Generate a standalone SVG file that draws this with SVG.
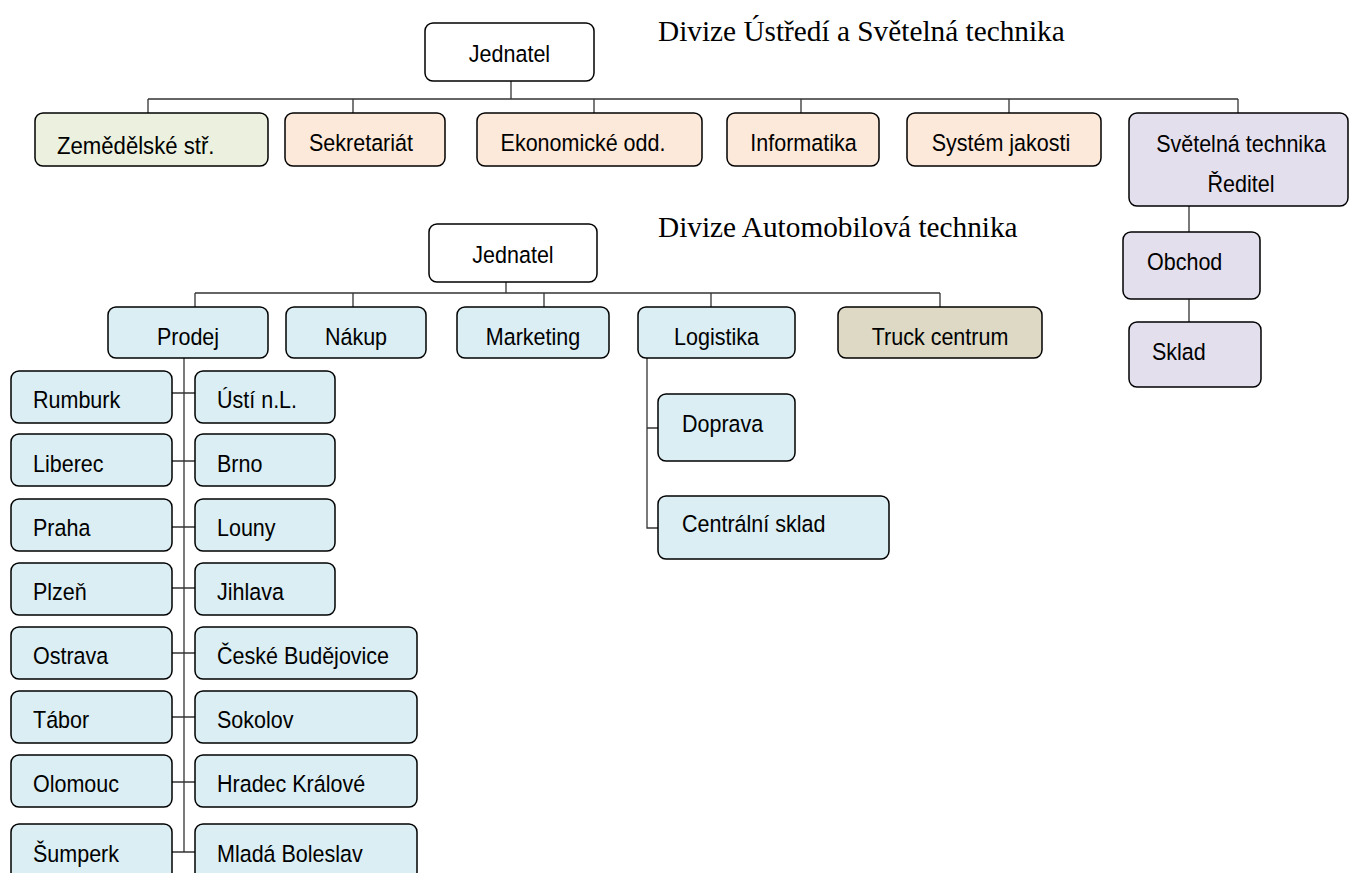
<svg xmlns="http://www.w3.org/2000/svg" width="1349" height="873" viewBox="0 0 1349 873">
<style>
.b{stroke:#000;stroke-width:1.5;rx:8;ry:8}
.w{fill:#fff}.g{fill:#ebf1de}.p{fill:#fde9d9}.v{fill:#e4dfec}.c{fill:#daeef3}.t{fill:#ddd9c4}
.l{font-family:"Liberation Sans",Arial,sans-serif;font-size:23.5px;fill:#000}
.m{text-anchor:middle}
.h{font-family:"Liberation Serif","Times New Roman",serif;font-size:29.3px;fill:#000}
.k{fill:none;stroke:#333;stroke-width:1.3}
</style>
<rect width="1349" height="873" fill="#fff"/>
<text class="h" x="658" y="41">Divize Ústředí a Světelná technika</text>
<text class="h" x="658" y="237">Divize Automobilová technika</text>
<g id="connectors" class="k">
<path d="M511 81V99M148 99H1238M148 99V113M353 99V113M594 99V113M801 99V113M1009 99V113M1238 99V113"/>
<path d="M1189 206V232M1189 299V322"/>
<path d="M506 282V293M195 293H940M195 293V307M353 293V307M544 293V307M711 293V307M940 293V307"/>
<path d="M184 358V852M172 393H195M172 461H195M172 527H195M172 588H195M172 653H195M172 717H195M172 782H195M172 852H195"/>
<path d="M647 358V528H658M647 428H658"/>
</g>
<g id="jednatel1"><rect class="b w" x="425" y="23" width="169" height="58"/><text class="l m" transform="translate(509.5 62) scale(0.915 1)">Jednatel</text></g>
<g id="zemedelske"><rect class="b g" x="35" y="113" width="233" height="53"/><text class="l" transform="translate(57 154) scale(0.915 1)" style="font-size:24.2px">Zemědělské stř.</text></g>
<g id="sekretariat"><rect class="b p" x="285" y="113" width="160" height="53"/><text class="l m" transform="translate(361 151) scale(0.915 1)">Sekretariát</text></g>
<g id="ekonomicke"><rect class="b p" x="477" y="113" width="225" height="53"/><text class="l m" transform="translate(583 151) scale(0.915 1)">Ekonomické odd.</text></g>
<g id="informatika"><rect class="b p" x="727" y="113" width="152" height="53"/><text class="l m" transform="translate(803.5 151) scale(0.915 1)">Informatika</text></g>
<g id="system"><rect class="b p" x="907" y="113" width="194" height="53"/><text class="l m" transform="translate(1001 151) scale(0.915 1)">Systém jakosti</text></g>
<g id="svetelna"><rect class="b v" x="1129" y="113" width="219" height="93"/><text class="l m" transform="translate(1241 152) scale(0.915 1)">Světelná technika</text><text class="l m" transform="translate(1241 192) scale(0.915 1)">Ředitel</text></g>
<g id="obchod"><rect class="b v" x="1123" y="232" width="137" height="67"/><text class="l" transform="translate(1147 270) scale(0.915 1)">Obchod</text></g>
<g id="sklad"><rect class="b v" x="1129" y="322" width="132" height="65"/><text class="l" transform="translate(1152 360) scale(0.915 1)">Sklad</text></g>
<g id="jednatel2"><rect class="b w" x="429" y="224" width="168" height="58"/><text class="l m" transform="translate(513 263) scale(0.915 1)">Jednatel</text></g>
<g id="prodej"><rect class="b c" x="108" y="307" width="160" height="51"/><text class="l m" transform="translate(188 345) scale(0.915 1)">Prodej</text></g>
<g id="nakup"><rect class="b c" x="286" y="307" width="140" height="51"/><text class="l m" transform="translate(356 345) scale(0.915 1)">Nákup</text></g>
<g id="marketing"><rect class="b c" x="457" y="307" width="152" height="51"/><text class="l m" transform="translate(533 345) scale(0.915 1)">Marketing</text></g>
<g id="logistika"><rect class="b c" x="638" y="307" width="157" height="51"/><text class="l m" transform="translate(716.5 345) scale(0.915 1)">Logistika</text></g>
<g id="truck"><rect class="b t" x="838" y="307" width="204" height="51"/><text class="l m" transform="translate(940 345) scale(0.915 1)">Truck centrum</text></g>
<g id="doprava"><rect class="b c" x="658" y="394" width="137" height="67"/><text class="l" transform="translate(682 432) scale(0.915 1)">Doprava</text></g>
<g id="centralni"><rect class="b c" x="658" y="496" width="231" height="63"/><text class="l" transform="translate(682 532) scale(0.915 1)">Centrální sklad</text></g>
<g id="rumburk"><rect class="b c" x="11" y="371" width="161" height="52"/><text class="l" transform="translate(33 408) scale(0.915 1)">Rumburk</text></g>
<g id="liberec"><rect class="b c" x="11" y="434" width="161" height="52"/><text class="l" transform="translate(33 472) scale(0.915 1)">Liberec</text></g>
<g id="praha"><rect class="b c" x="11" y="499" width="161" height="52"/><text class="l" transform="translate(33 536) scale(0.915 1)">Praha</text></g>
<g id="plzen"><rect class="b c" x="11" y="563" width="161" height="52"/><text class="l" transform="translate(33 600) scale(0.915 1)">Plzeň</text></g>
<g id="ostrava"><rect class="b c" x="11" y="627" width="161" height="52"/><text class="l" transform="translate(33 664) scale(0.915 1)">Ostrava</text></g>
<g id="tabor"><rect class="b c" x="11" y="691" width="161" height="52"/><text class="l" transform="translate(33 728) scale(0.915 1)">Tábor</text></g>
<g id="olomouc"><rect class="b c" x="11" y="755" width="161" height="52"/><text class="l" transform="translate(33 792) scale(0.915 1)">Olomouc</text></g>
<g id="sumperk"><rect class="b c" x="11" y="824" width="161" height="56"/><text class="l" transform="translate(33 862) scale(0.915 1)">Šumperk</text></g>
<g id="usti"><rect class="b c" x="195" y="371" width="140" height="52"/><text class="l" transform="translate(217 408) scale(0.915 1)">Ústí n.L.</text></g>
<g id="brno"><rect class="b c" x="195" y="434" width="140" height="52"/><text class="l" transform="translate(217 472) scale(0.915 1)">Brno</text></g>
<g id="louny"><rect class="b c" x="195" y="499" width="140" height="52"/><text class="l" transform="translate(217 536) scale(0.915 1)">Louny</text></g>
<g id="jihlava"><rect class="b c" x="195" y="563" width="140" height="52"/><text class="l" transform="translate(217 600) scale(0.915 1)">Jihlava</text></g>
<g id="budejovice"><rect class="b c" x="195" y="627" width="222" height="52"/><text class="l" transform="translate(217 664) scale(0.915 1)">České Budějovice</text></g>
<g id="sokolov"><rect class="b c" x="195" y="691" width="222" height="52"/><text class="l" transform="translate(217 728) scale(0.915 1)">Sokolov</text></g>
<g id="hradec"><rect class="b c" x="195" y="755" width="222" height="52"/><text class="l" transform="translate(217 792) scale(0.915 1)">Hradec Králové</text></g>
<g id="mlada"><rect class="b c" x="195" y="824" width="222" height="56"/><text class="l" transform="translate(217 862) scale(0.915 1)">Mladá Boleslav</text></g>
</svg>
